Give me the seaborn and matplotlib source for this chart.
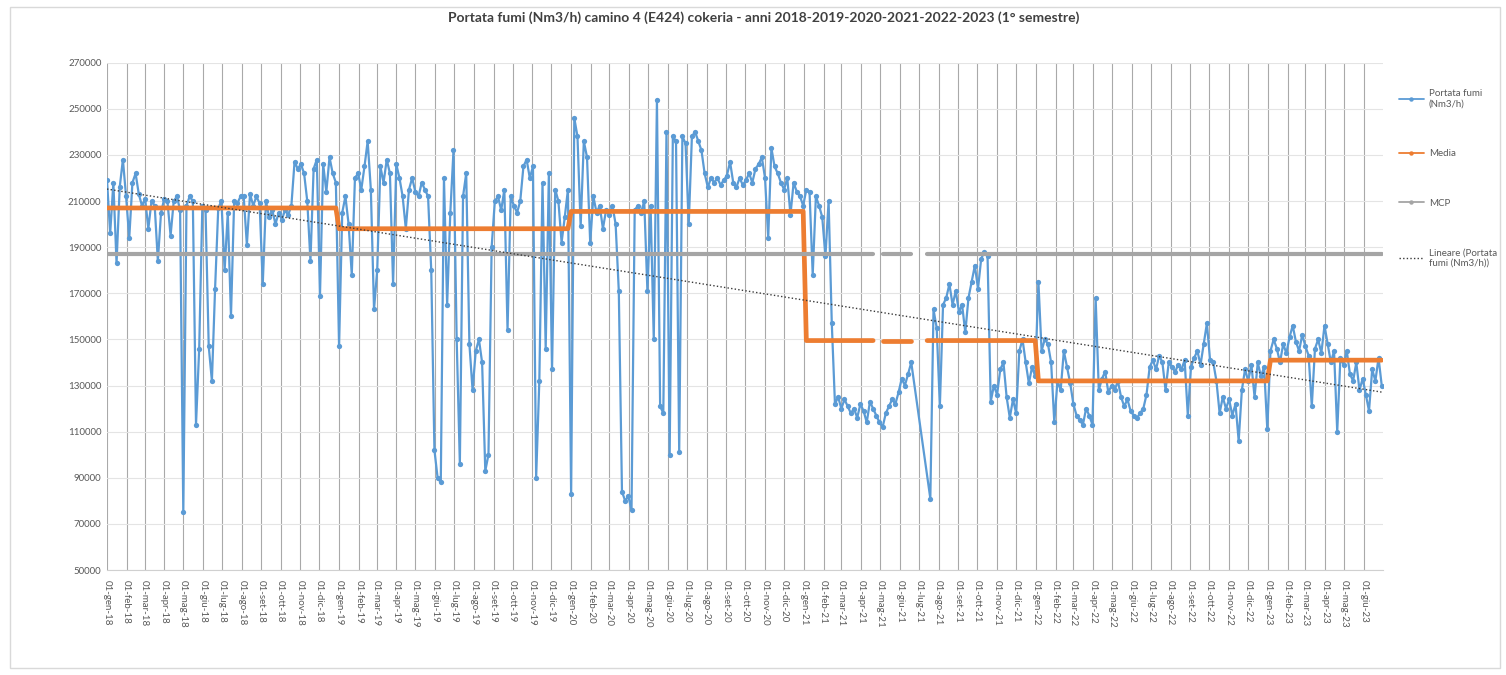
import numpy as np
import pandas as pd
import matplotlib
matplotlib.use("Agg")
import matplotlib.pyplot as plt
import matplotlib.dates as mdates
from matplotlib.lines import Line2D
from matplotlib.patches import Rectangle
import seaborn as sns

# ---------------- data ----------------
TITLE = "Portata fumi (Nm3/h) camino 4 (E424) cokeria - anni 2018-2019-2020-2021-2022-2023 (1° semestre)"
START_DATE = "2018-01-01"
SAMPLE_STEP = "5D"
X_START = "2018-01-01"
X_END = "2023-07-01"

flow_2018 = [219000, 196000, 218000, 183000, 216000, 228000, 212000, 194000, 218000, 222000,
             213000, 208000, 211000, 198000, 210000, 208000, 184000, 205000, 211000,
             210000, 195000, 210000, 212000, 206000, 75000, 208000, 212000, 210000, 113000,
             146000, 208000, 206000, 147000, 132000, 172000, 207000, 210000,
             180000, 205000, 160000, 210000, 209000, 212000,
             212000, 191000, 213000, 208000, 212000, 209000, 174000, 210000, 203000, 206000,
             200000, 205000, 202000, 206000, 204000, 208000, 227000, 224000,
             226000, 222000, 210000, 184000, 224000, 228000, 169000, 226000, 214000, 229000,
             222000, 218000]

flow_2019 = [147000, 205000, 212000, 200000, 178000, 220000, 222000, 215000, 225000, 236000,
             215000, 163000, 180000, 225000, 218000, 228000, 222000, 174000, 226000, 220000,
             212000, 198000,
             215000, 220000, 214000, 212000, 218000, 215000, 212000, 180000, 102000, 90000,
             88000, 220000, 165000, 205000, 232000, 150000, 96000, 212000, 222000, 148000,
             128000, 145000, 150000, 140000, 93000, 100000, 190000, 210000, 212000, 206000,
             215000, 154000, 212000, 208000, 205000, 210000, 225000, 228000, 220000, 225000,
             90000, 132000,
             218000, 146000, 222000, 137000, 215000, 210000, 192000, 203000, 215000]

flow_2020 = [83000, 246000, 238000, 199000, 236000, 229000, 192000, 212000, 205000, 208000,
             198000, 206000, 204000, 208000, 200000, 171000, 84000, 80000, 82000, 76000,
             206000, 208000, 205000, 210000, 171000, 208000, 150000, 254000, 121000, 118000,
             240000, 100000, 238000, 236000, 101000, 238000, 235000, 200000, 238000, 240000,
             236000, 232000, 222000, 216000, 220000,
             218000, 220000, 217000, 219000, 221000, 227000, 218000, 216000, 220000, 217000,
             219000, 222000, 218000, 224000, 226000, 229000, 220000, 194000, 233000, 225000,
             222000, 218000, 215000, 220000, 204000, 218000, 214000, 212000, 208000]

flow_2021 = [215000, 214000, 178000, 212000, 208000, 203000, 186000, 210000, 157000, 122000,
             125000, 120000, 124000, 121000, 118000, 120000, 116000, 122000, 119000, 114000,
             123000, 120000, 117000, 114000, 112000, 118000, 121000, 124000, 122000, 127000,
             133000, 130000, 135000, 140000,
             None, None, None, None, None,
             81000, 163000, 155000, 121000, 165000, 168000, 174000, 165000, 171000, 162000,
             165000, 153000, 168000, 175000, 182000, 172000, 185000, 188000, 186000, 123000,
             130000, 126000, 137000, 140000, 125000, 116000, 124000, 118000, 145000, 150000,
             140000, 131000, 138000, 134000]

flow_2022 = [175000, 145000, 150000, 148000, 140000, 114000, 132000, 128000, 145000, 138000,
             131000, 122000, 117000, 115000, 113000, 120000, 117000, 113000, 168000, 128000,
             133000, 136000, 127000, 130000, 128000, 132000, 125000, 121000, 124000, 119000,
             117000, 116000, 118000, 120000, 126000, 138000, 141000, 137000, 143000, 140000,
             128000, 140000, 138000, 136000, 139000, 137000, 141000, 117000, 138000, 142000,
             145000, 139000, 148000, 157000, 141000, 140000, 132000, 118000, 125000, 120000,
             124000, 117000, 122000, 106000, 128000, 137000, 132000, 139000, 125000, 140000,
             134000, 138000, 111000]

flow_2023 = [145000, 150000, 146000, 140000, 148000, 144000, 151000, 156000, 149000, 145000,
             152000, 147000, 143000, 121000, 146000, 150000, 144000, 156000, 148000, 140000,
             145000, 110000, 142000, 139000, 145000, 135000, 132000, 140000, 128000, 133000,
             126000, 119000, 137000, 132000, 142000, 130000]

media_years = [2018, 2019, 2020, 2021, 2022, 2023]
media_values = [207000, 198000, 205500, 149500, 132000, 141000]
mcp_value = 187000
missing_periods = [("2021-04-23", "2021-05-02"), ("2021-06-20", "2021-07-12")]

month_abbr = ["gen", "feb", "mar", "apr", "mag", "giu", "lug", "ago", "set", "ott", "nov", "dic"]
y_ticks = [50000, 70000, 90000, 110000, 130000, 150000, 170000, 190000, 210000, 230000, 250000, 270000]
legend_labels = ["Portata fumi\n(Nm3/h)", "Media", "MCP", "Lineare (Portata\nfumi (Nm3/h))"]

# ---------------- build tables ----------------
flow = flow_2018 + flow_2019 + flow_2020 + flow_2021 + flow_2022 + flow_2023
dates = pd.date_range(START_DATE, periods=len(flow), freq=SAMPLE_STEP)
df = pd.DataFrame({"date": dates,
                   "flow": [np.nan if v is None else float(v) for v in flow]})

missing = np.zeros(len(df), dtype=bool)
for a, b in missing_periods:
    missing |= ((df["date"] >= pd.Timestamp(a)) & (df["date"] <= pd.Timestamp(b))).to_numpy()

media_map = dict(zip(media_years, media_values))
df["media"] = df["date"].dt.year.map(media_map).astype(float)
df["mcp"] = float(mcp_value)
df["seg"] = np.cumsum(missing)

df_flow = df.dropna(subset=["flow"])
df_ref = df[~missing]

xnum = mdates.date2num(df_flow["date"])
coef = np.polyfit(xnum, df_flow["flow"].to_numpy(), 1)
df["trend"] = np.polyval(coef, mdates.date2num(df["date"]))

# ---------------- plot ----------------
sns.set_style("white")
plt.rcParams["font.family"] = ["Lato", "DejaVu Sans"]

W, H = 1506, 675
fig = plt.figure(figsize=(W / 100, H / 100), dpi=100)
ax = fig.add_axes([107 / W, 1 - 570 / H, (1383 - 107) / W, (570 - 62.7) / H])

BLUE, ORANGE, GRAY = "#5B9BD5", "#ED7D31", "#A5A5A5"

sns.lineplot(data=df_flow, x="date", y="flow", ax=ax, color=BLUE, lw=1.6,
             marker="o", markersize=3.8, markeredgewidth=0, estimator=None, zorder=3)
sns.lineplot(data=df_ref, x="date", y="media", units="seg", estimator=None, ax=ax,
             color=ORANGE, lw=3.4, zorder=4)
sns.lineplot(data=df_ref, x="date", y="mcp", units="seg", estimator=None, ax=ax,
             color=GRAY, lw=3.0, zorder=4)
sns.lineplot(data=df, x="date", y="trend", ax=ax, color="#3a3a3a", lw=1.0,
             linestyle=(0, (1, 1.6)), estimator=None, zorder=5)

# axes
ax.set_xlim(pd.Timestamp(X_START), pd.Timestamp(X_END))
ax.set_ylim(y_ticks[0], y_ticks[-1])
ax.set_yticks(y_ticks)
ax.set_yticklabels([str(v) for v in y_ticks])
month_starts = pd.date_range(X_START, "2023-06-01", freq="MS")
ax.set_xticks(month_starts)
ax.set_xticklabels([f"01-{month_abbr[d.month - 1]}-{d.year % 100:02d}" for d in month_starts],
                   rotation=-90, ha="center", va="top")
ax.tick_params(axis="both", labelsize=7, colors="#595959", length=0, pad=4)
ax.tick_params(axis="x", length=4, color="#bfbfbf", pad=3)
ax.grid(axis="y", color="#e4e4e4", lw=0.8)
ax.grid(axis="x", color="#a9a9a9", lw=0.8)
ax.set_axisbelow(True)
for s in ["top", "right", "left"]:
    ax.spines[s].set_visible(False)
ax.spines["bottom"].set_color("#d0d0d0")
ax.set_xlabel("")
ax.set_ylabel("")
if ax.get_legend():
    ax.get_legend().remove()

# title
fig.text(764 / W, 1 - 18 / H, TITLE, ha="center", va="center", fontsize=10,
         fontweight="bold", color="#404040")

# legend
handles = [
    Line2D([0], [0], color=BLUE, lw=1.3, marker="o", markersize=3.2, markeredgewidth=0),
    Line2D([0], [0], color=ORANGE, lw=1.3, marker="o", markersize=3.2, markeredgewidth=0),
    Line2D([0], [0], color=GRAY, lw=1.3, marker="o", markersize=3.2, markeredgewidth=0),
    Line2D([0], [0], color="#3a3a3a", lw=1.0, linestyle=(0, (1, 1.6))),
]
fig.legend(handles, legend_labels, loc="upper left", bbox_to_anchor=(1390 / W, 1 - 80 / H),
           frameon=False, fontsize=7, labelcolor="#595959", labelspacing=4.2,
           handlelength=2.6, handletextpad=0.5)

# outer chart border
fig.patches.append(Rectangle((10 / W, 7 / H), (1500 - 10) / W, (668 - 7) / H,
                             transform=fig.transFigure, fill=False,
                             edgecolor="#d9d9d9", lw=1.0))

fig.savefig("out.png", dpi=100)
